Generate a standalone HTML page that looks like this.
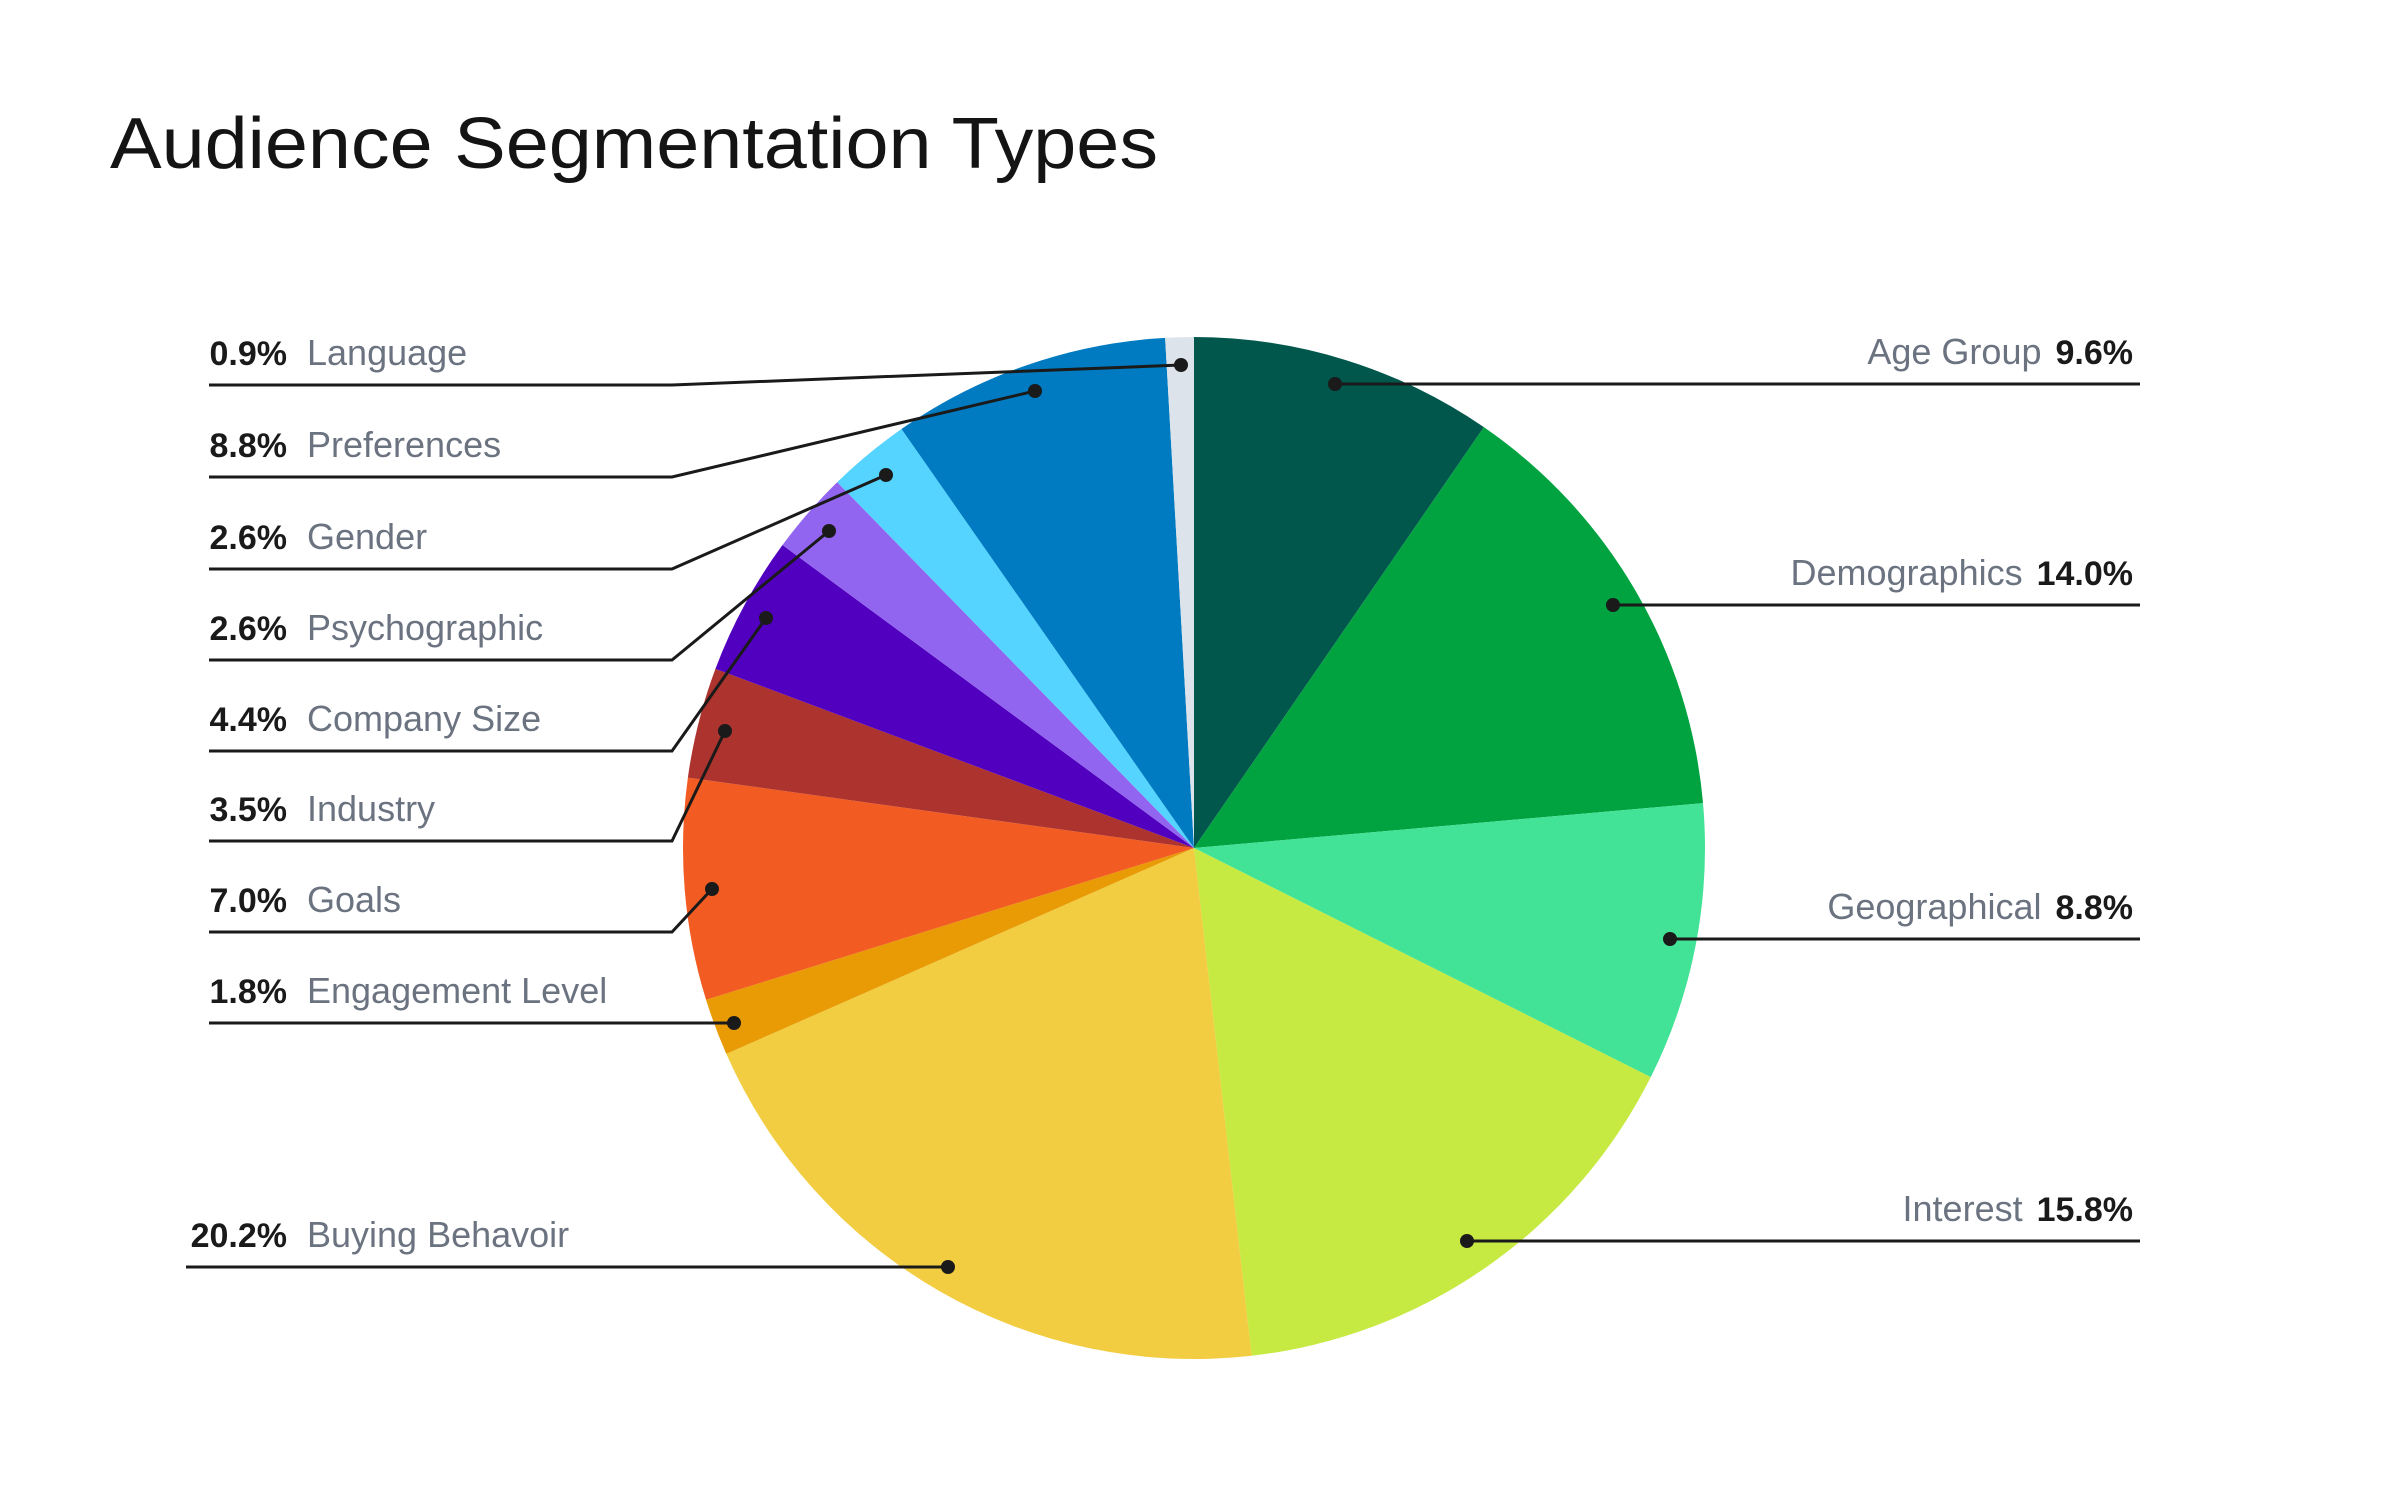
<!DOCTYPE html>
<html><head><meta charset="utf-8"><style>
html,body{margin:0;padding:0;background:#fff;}
svg{display:block;}
text{font-family:"Liberation Sans",sans-serif;}
.p{font-weight:bold;fill:#1a1a1a;font-size:34px;}
.n{fill:#6b7380;font-size:36px;}
</style></head><body>
<svg id="s" width="2400" height="1500" viewBox="0 0 2400 1500" xmlns="http://www.w3.org/2000/svg">
<text x="110" y="168" font-size="72" fill="#141414" textLength="1048" lengthAdjust="spacingAndGlyphs">Audience Segmentation Types</text>
<g id="pie"></g>
<g id="lab" stroke="#1a1a1a" stroke-width="3" fill="none"></g>
<g id="dots" fill="#1a1a1a"></g>
<g id="txt"></g>
</svg>
<script>
var cx=1194,cy=848,r=511;
var d=[[9.6,"#02574c"],[14.0,"#00a33f"],[8.8,"#42e397"],[15.8,"#c6ea42"],[20.2,"#f2cd41"],[1.8,"#e89b05"],[7.0,"#f25c22"],[3.5,"#ad342e"],[4.4,"#5200c0"],[2.6,"#9265f0"],[2.6,"#55d4ff"],[8.8,"#007bc1"],[0.9,"#dde3ea"]];
var a=0,h="";
function pt(t){return [cx+r*Math.sin(t),cy-r*Math.cos(t)];}
d.forEach(function(s){var a0=a/100*2*Math.PI;a+=s[0];var a1=a/100*2*Math.PI;var p0=pt(a0),p1=pt(a1);
h+='<path d="M'+cx+','+cy+' L'+p0[0]+','+p0[1]+' A'+r+','+r+' 0 '+((a1-a0)>Math.PI?1:0)+' 1 '+p1[0]+','+p1[1]+' Z" fill="'+s[1]+'"/>';});
document.getElementById('pie').innerHTML=h;
var L=[["0.9%","Language",385,1181,365],["8.8%","Preferences",477,1035,391],["2.6%","Gender",569,886,475],["2.6%","Psychographic",660,829,531],["4.4%","Company Size",751,766,618],["3.5%","Industry",841,725,731],["7.0%","Goals",932,712,889],["1.8%","Engagement Level",1023,734,1023],["20.2%","Buying Behavoir",1267,948,1267]];
var R=[["Age Group","9.6%",384,1335,384],["Demographics","14.0%",605,1613,605],["Geographical","8.8%",939,1670,939],["Interest","15.8%",1241,1467,1241]];
var ln="",dt="",tx="";
L.forEach(function(l,i){var x0=(i==8)?186:209;
if(i>=7){ln+='<path d="M'+x0+','+l[2]+' L'+l[3]+','+l[4]+'"/>';}
else ln+='<path d="M'+x0+','+l[2]+' L672,'+l[2]+' L'+l[3]+','+l[4]+'"/>';
dt+='<circle cx="'+l[3]+'" cy="'+l[4]+'" r="7"/>';
tx+='<text class="p" x="287" y="'+(l[2]-20)+'" text-anchor="end">'+l[0]+'</text><text class="n" x="307" y="'+(l[2]-20)+'">'+l[1]+'</text>';});
R.forEach(function(l){ln+='<path d="M'+l[3]+','+l[4]+' L2140,'+l[2]+'"/>';
dt+='<circle cx="'+l[3]+'" cy="'+l[4]+'" r="7"/>';
tx+='<text x="2133" y="'+(l[2]-20)+'" text-anchor="end"><tspan class="n">'+l[0]+'</tspan><tspan class="p" dx="14">'+l[1]+'</tspan></text>';});
document.getElementById('lab').innerHTML=ln;
document.getElementById('dots').innerHTML=dt;
document.getElementById('txt').innerHTML=tx;
</script>
</body></html>
